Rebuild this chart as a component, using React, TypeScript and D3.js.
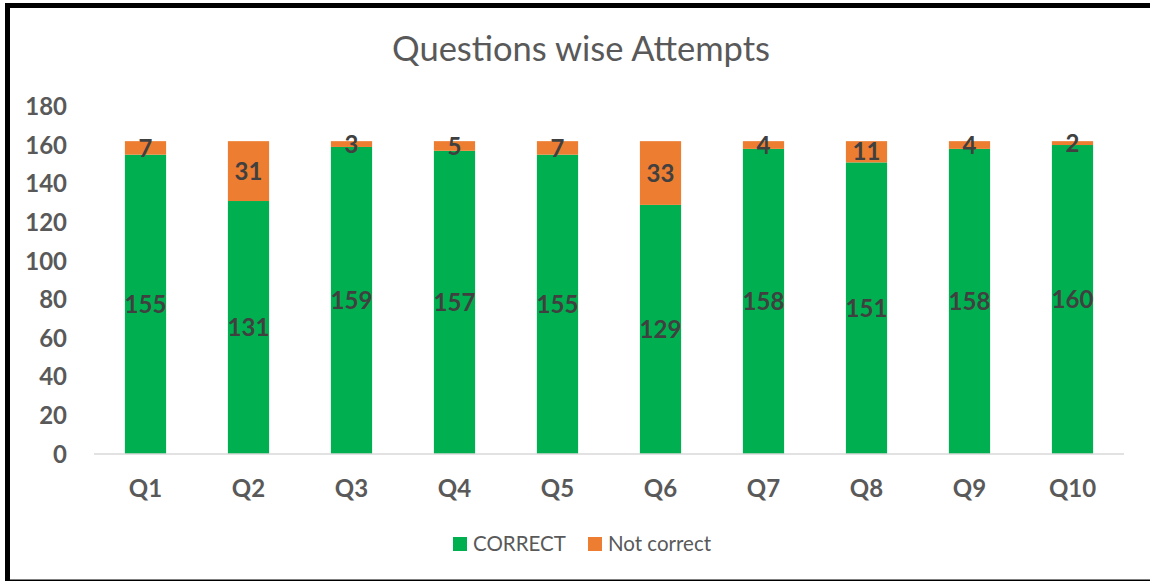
import React from "react";
import * as d3 from "d3";

const categories = ["Q1", "Q2", "Q3", "Q4", "Q5", "Q6", "Q7", "Q8", "Q9", "Q10"];
const correct = [155, 131, 159, 157, 155, 129, 158, 151, 158, 160];
const notCorrect = [7, 31, 3, 5, 7, 33, 4, 11, 4, 2];
const yTicks = [0, 20, 40, 60, 80, 100, 120, 140, 160, 180];
const seriesNames = ["CORRECT", "Not correct"];
const colors = ["#00B050", "#ED7D31"];

const W = 1150;
const H = 581;
const FONT = "Lato, 'Open Sans', sans-serif";

export default function App() {
  const x = d3.scaleBand<string>().domain(categories).range([94, 1124]).paddingInner(0.6).paddingOuter(0.3);
  const y = d3.scaleLinear().domain([0, 180]).range([454, 106.4]);

  const rows = categories.map((c, i) => ({ cat: c, correct: correct[i], notCorrect: notCorrect[i] }));
  const stack = d3.stack<any>().keys(["correct", "notCorrect"])(rows);

  return (
    <svg width={W} height={H} style={{ position: "absolute", left: 0, top: 0, background: "#fff" }}>
      <rect x={0} y={0} width={W} height={H} fill="#fff" />
      <rect x={7.5} y={5.5} width={W + 10} height={H - 4.5} fill="none" stroke="#000" strokeWidth={5} />
      <text x={581} y={61} textAnchor="middle" fontFamily={FONT} fontSize={34.5} fill="#595959">
        Questions wise Attempts
      </text>
      {yTicks.map((t) => (
        <text key={t} x={67} y={y(t)} dy="0.36em" textAnchor="end" fontFamily={FONT} fontWeight={700} fontSize={24} fill="#595959">
          {t}
        </text>
      ))}
      {stack.map((s, si) => (
        <g key={si} fill={colors[si]}>
          {s.map((d, i) => (
            <rect key={i} x={x(categories[i])} width={x.bandwidth()} y={y(d[1])} height={y(d[0]) - y(d[1])} />
          ))}
        </g>
      ))}
      <line x1={94} x2={1124} y1={y(0)} y2={y(0)} stroke="#D9D9D9" strokeWidth={1.5} />
      {stack.map((s, si) => (
        <g key={"l" + si}>
          {s.map((d, i) => (
            <text
              key={i}
              x={(x(categories[i]) as number) + x.bandwidth() / 2}
              y={y((d[0] + d[1]) / 2)}
              dy="0.36em"
              textAnchor="middle"
              fontFamily={FONT}
              fontWeight={700}
              fontSize={24}
              fill="#404040"
            >
              {d[1] - d[0]}
            </text>
          ))}
        </g>
      ))}
      {categories.map((c) => (
        <text key={c} x={(x(c) as number) + x.bandwidth() / 2} y={488} dy="0.36em" textAnchor="middle" fontFamily={FONT} fontWeight={700} fontSize={24} fill="#595959">
          {c}
        </text>
      ))}
      {seriesNames.map((n, i) => {
        const lx = [453, 588][i];
        return (
          <g key={n}>
            <rect x={lx} y={537} width={14} height={14} fill={colors[i]} />
            <text x={lx + 20} y={544} dy="0.36em" fontFamily={FONT} fontSize={20.5} fill="#595959">
              {n}
            </text>
          </g>
        );
      })}
    </svg>
  );
}
